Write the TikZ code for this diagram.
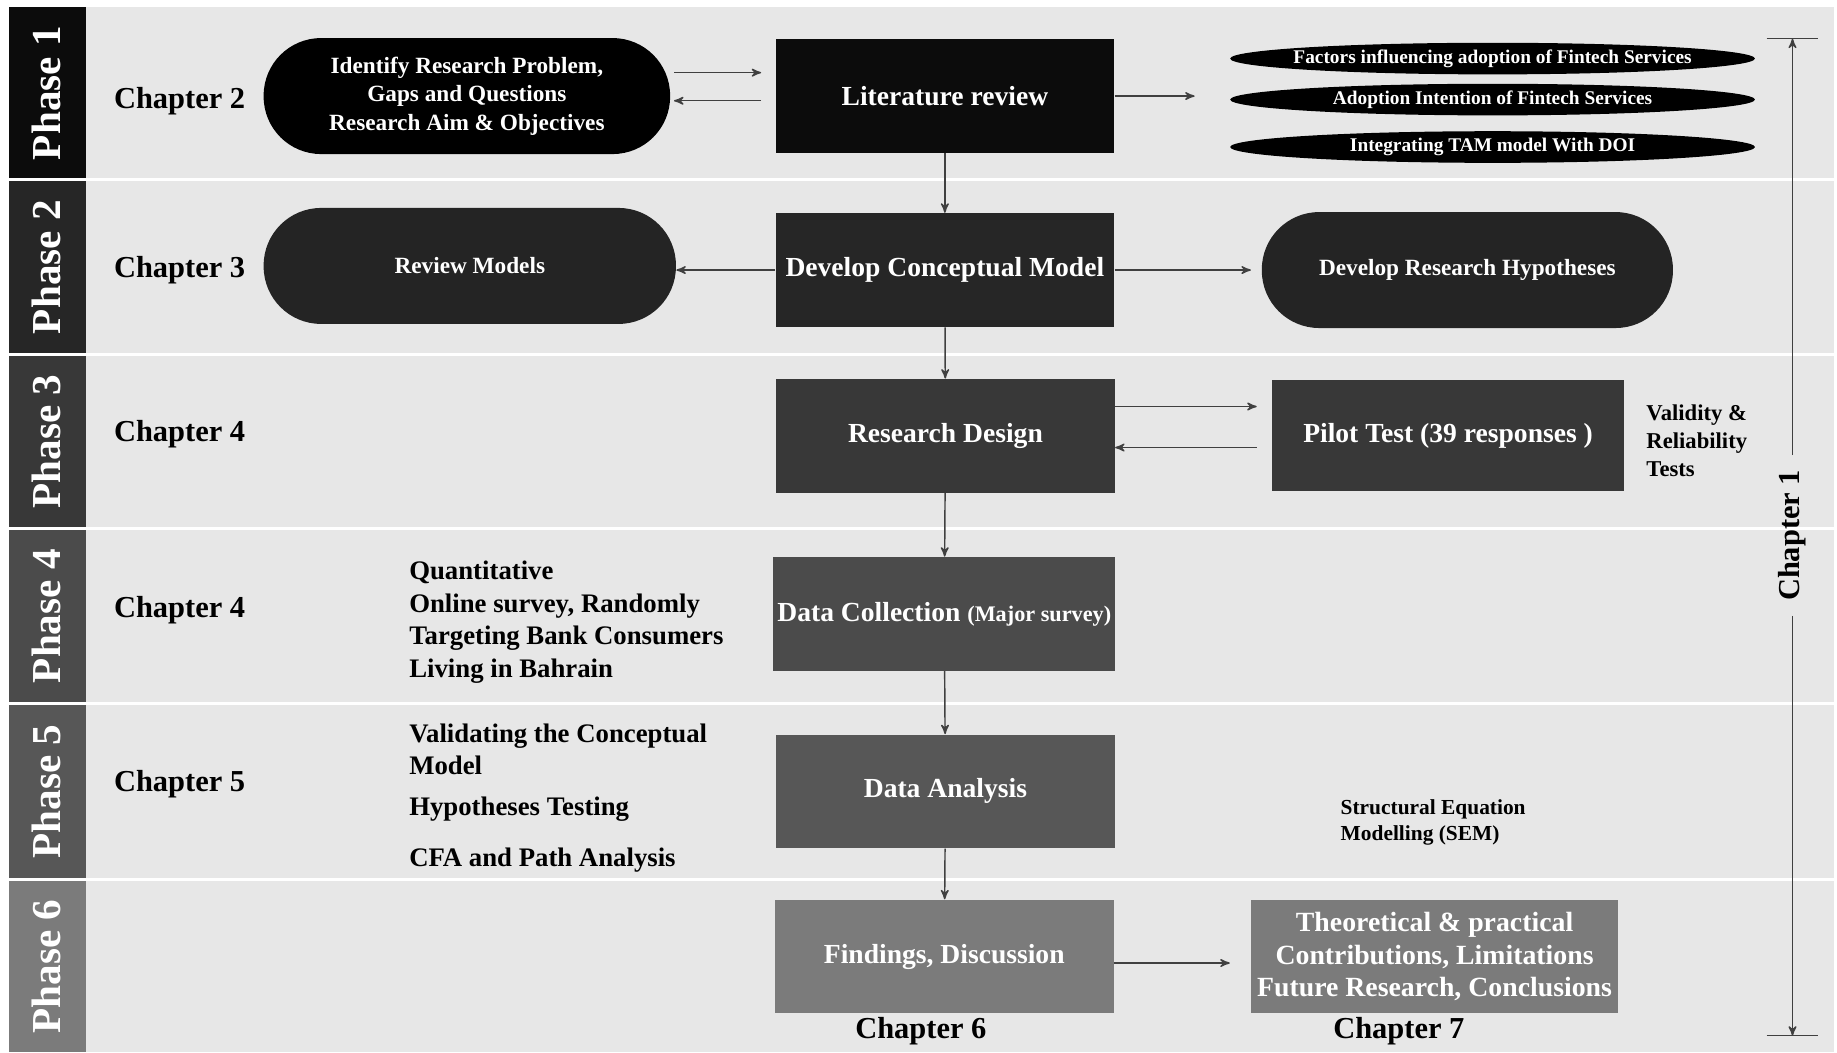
\documentclass[tikz,border=0pt]{standalone}
\usepackage{fontspec}
\setmainfont{Liberation Serif}
\usetikzlibrary{arrows,shapes}

\definecolor{bggrey}{HTML}{E7E7E7}
\definecolor{linkgrey}{HTML}{404040}
\definecolor{phaseA}{HTML}{0C0C0C}
\definecolor{phaseB}{HTML}{262626}
\definecolor{phaseC}{HTML}{383838}
\definecolor{phaseD}{HTML}{4B4B4B}
\definecolor{phaseE}{HTML}{575757}
\definecolor{phaseF}{HTML}{7B7B7B}
\definecolor{ovalgrey}{HTML}{242424}

\begin{document}
\begin{tikzpicture}[x=0.02cm,y=-0.02cm,>=stealth',auto]
        \tikzstyle{chbox}=[rectangle,minimum width=5.78cm,minimum height=1.94cm,text=white,font=\bfseries\fontsize{13.4}{16}\selectfont]
        \tikzstyle{oval}=[rectangle,rounded corners=0.98cm,minimum height=1.98cm,text=white,align=center,font=\bfseries\fontsize{11.3}{13.9}\selectfont]
        \tikzstyle{factor}=[ellipse,fill=black,minimum width=8.96cm,minimum height=0.54cm,inner sep=0pt]
        \tikzstyle{ftext}=[text=white,font=\bfseries\fontsize{9.4}{11}\selectfont]
        \tikzstyle{phase}=[rotate=90,text=white,font=\bfseries\fontsize{20}{22}\selectfont]
        \tikzstyle{chap}=[inner sep=0pt,font=\bfseries\fontsize{14.8}{17}\selectfont]
        \tikzstyle{note}=[inner sep=0pt,anchor=west,align=left,font=\bfseries\fontsize{13}{15.9}\selectfont]
        \tikzstyle{link}=[draw=linkgrey,line width=0.7pt,->]

        \useasboundingbox (0,0) rectangle (1568,898);
        \fill[bggrey] (8,6) rectangle (1565,898);
        % phase column
        \fill[phaseA] (8,6) rectangle (73,153.5);
        \fill[phaseB] (8,153.5) rectangle (73,302.5);
        \fill[phaseC] (8,302.5) rectangle (73,451.5);
        \fill[phaseD] (8,451.5) rectangle (73,600.5);
        \fill[phaseE] (8,600.5) rectangle (73,750.5);
        \fill[phaseF] (8,750.5) rectangle (73,898);
        \foreach \y in {153.5,302.5,451.5,600.5,750.5}
            \draw[white,line width=0.05cm] (8,\y) -- (1565,\y);
        \foreach \n/\y in {1/79.5,2/228,3/377,4/526,5/675.5,6/825}
            \node[phase] (ph\n) at (40,\y) {Phase \n};

        % chapters
        \node[chap,anchor=west] (ch2) at (97,86) {Chapter 2};
        \node[chap,anchor=west] (ch3) at (97,231) {Chapter 3};
        \node[chap,anchor=west] (ch4a) at (97,371) {Chapter 4};
        \node[chap,anchor=west] (ch4b) at (97,521) {Chapter 4};
        \node[chap,anchor=west] (ch5) at (97,669) {Chapter 5};
        \node[chap] (ch6) at (786,880) {Chapter 6};
        \node[chap] (ch7) at (1194,880) {Chapter 7};
        \node[chap,rotate=90,inner sep=7pt] (ch1) at (1530,457) {Chapter 1};

        % main column
        \node[chbox,fill=phaseA] (lr) at (806.5,82) {Literature review};
        \node[chbox,fill=phaseB] (dcm) at (806.5,230.5) {Develop Conceptual Model};
        \node[chbox,fill=phaseC] (rd) at (807,372) {Research Design};
        \node[chbox,fill=phaseD,inner xsep=2pt] (dc) at (806,524) {Data Collection {\fontsize{10.8}{12}\selectfont(Major survey)}};
        \node[chbox,fill=phaseE] (da) at (807,675.5) {Data Analysis};
        \node[chbox,fill=phaseF] (fd) at (806,816.5) {Findings, Discussion};

        % side boxes
        \node[oval,fill=black,minimum width=6.94cm] (idp) at (398.5,82) {Identify Research Problem,\\Gaps and Questions\\Research Aim \& Objectives};
        \node[oval,fill=ovalgrey,minimum width=7.04cm] (rm) at (401,227) {Review Models};
        \node[oval,fill=ovalgrey,minimum width=7.02cm] (drh) at (1252.5,230.5) {Develop Research Hypotheses};
        \node[factor,label={[ftext]center:Factors influencing adoption of Fintech Services}] (f1) at (1274,50) {};
        \node[factor,label={[ftext]center:Adoption Intention of Fintech Services}] (f2) at (1274,85) {};
        \node[factor,label={[ftext]center:Integrating TAM model With DOI}] (f3) at (1274,125.5) {};
        \node[chbox,fill=phaseC,minimum width=6cm,minimum height=1.9cm] (pt) at (1236,372) {Pilot Test (39 responses )};
        \node[chbox,fill=phaseF,minimum width=6.26cm,inner xsep=1pt,align=center,font=\bfseries\fontsize{13.5}{15.9}\selectfont] (tpc) at (1224.5,816.5) {Theoretical \& practical\\Contributions, Limitations\\Future Research, Conclusions};

        % notes
        \node[note] (qnt) at (349,531) {Quantitative\\Online survey, Randomly\\Targeting Bank Consumers\\Living in Bahrain};
        \node[note] (vcm) at (349,639.5) {Validating the Conceptual\\Model};
        \node[note] (hyp) at (349,691) {Hypotheses Testing};
        \node[note] (cfa) at (349,734) {CFA and Path Analysis};
        \node[note,font=\bfseries\fontsize{11}{13.7}\selectfont] (vrt) at (1405,376) {Validity \&\\Reliability\\Tests};
        \node[note,font=\bfseries\fontsize{10.4}{12.5}\selectfont] (sem) at (1144,702) {Structural Equation\\Modelling (SEM)};

        % links
        \draw[link,shorten <=0.06cm,shorten >=0.24cm] ([yshift=0.4cm]idp.east) -- ([yshift=0.4cm]lr.west);
        \draw[link,shorten <=0.24cm,shorten >=0.06cm] ([yshift=-0.08cm]lr.west) -- ([yshift=-0.08cm]idp.east);
        \draw[link,shorten >=0.6cm] (lr.east) -- (lr.east -| f2.west);
        \draw[link] (lr) -- (dcm);
        \draw[link] (dcm.west) -- (dcm.west -| rm.east);
        \draw[link,shorten >=0.18cm] (dcm.east) -- (dcm.east -| drh.west);
        \draw[link] (dcm) -- (rd);
        \draw[link,shorten >=0.26cm] ([yshift=0.5cm]rd.east) -- ([yshift=0.5cm]pt.west);
        \draw[link,shorten <=0.26cm] ([yshift=-0.2cm]pt.west) -- ([yshift=-0.2cm]rd.east);
        \draw[link] (rd) -- (dc);
        \draw[link] (dc) -- (da);
        \draw[link] (da) -- (fd);
        \draw[link,shorten >=0.36cm] ([yshift=-0.11cm]fd.east) -- ([yshift=-0.11cm]tpc.west);

        % chapter 1 span
        \coordinate (c1top) at (1530,33);
        \coordinate (c1bot) at (1530,884);
        \draw[link] (ch1.east) -- (c1top);
        \draw[link] (ch1.west) -- (c1bot);
        \draw[linkgrey,line width=0.7pt] ([xshift=-0.44cm]c1top) -- ([xshift=0.44cm]c1top);
        \draw[linkgrey,line width=0.7pt] ([xshift=-0.44cm]c1bot) -- ([xshift=0.44cm]c1bot);
\end{tikzpicture}
\end{document}
